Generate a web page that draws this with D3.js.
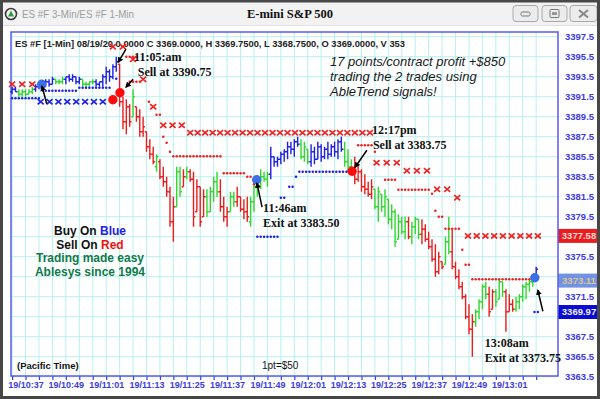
<!DOCTYPE html>
<meta charset="utf-8">
<html>
<head>
<script src="https://d3js.org/d3.v7.min.js"></script>
<style>
  body { margin: 0; background: #fff; }
  svg { display: block; }
  text { font-family: "Liberation Sans", Arial, sans-serif; }
</style>
</head>
<body>
<script>

// 1-min bars, index 0 = 19/10:33
const high = [
  3392.5,3392.5,3392.25,3392.25,3392.25,3392.25,3392.5,3392.75,3392.75,3392.75,
  3393.25,3393.25,3393.5,3393.25,3393.25,3393.5,3393.5,3393.75,3393.75,3393.5,
  3393.5,3393.25,3393,3393,3393.25,3393.25,3393,3393.75,3394.5,3394.25,
  3394.75,3395.5,3394.75,3391.5,3391.25,3390.75,3392.25,3390.5,3390.25,3389.5,
  3388,3387.25,3386.5,3385.75,3385.25,3384.5,3383.5,3382.5,3381.5,3384.5,
  3384.5,3384.25,3384.5,3384.25,3384,3383.25,3382.5,3382.25,3382.25,3382.5,
  3383.5,3384,3383.25,3381.5,3380.5,3382,3382,3382.5,3381.5,3381.25,
  3381.5,3381.5,3383,3383.5,3384.25,3384,3384,3386.5,3385.5,3385.5,
  3386,3386.25,3387,3387,3387.25,3387.5,3387.25,3387,3386.25,3386.75,
  3386.5,3387,3386.75,3386.5,3387,3386.75,3387,3387.25,3387.5,3387,
  3386.25,3385.25,3385.5,3384.75,3384.25,3383.75,3383,3383.25,3382.25,3382.5,
  3381.75,3382.25,3381.25,3380.75,3380.25,3379.75,3379.5,3379.5,3379.5,3379,
  3379.5,3379.25,3379.25,3378.75,3378,3377.25,3376.75,3376,3375,3377.5,
  3379.5,3378.25,3375,3374.25,3373,3371.75,3370.75,3369.75,3370.25,3371.25,
  3372.75,3373,3372.5,3372.25,3372.25,3373.25,3373,3372.25,3371.75,3371.25,
  3371.5,3371.75,3372.75,3373,3373.25,3373.5,3374.5];
const low = [
  3391.75,3392,3391.5,3391.5,3391.5,3391.75,3391.75,3392,3392.25,3392,
  3392.5,3392.5,3392.75,3392.75,3392.75,3392.75,3392.75,3393,3393,3392.75,
  3392.75,3392.5,3392.5,3392.5,3392.75,3392.5,3392.5,3392.5,3392.75,3393,
  3393.25,3394,3390.5,3388.25,3387.75,3388.5,3389.5,3389,3387.5,3387.5,
  3386,3385.25,3384.75,3384,3383.25,3382.5,3381.5,3378.5,3377,3380.5,
  3381.5,3382.5,3383.25,3383,3378.5,3380,3378.5,3379.5,3379.5,3380,
  3381,3381.5,3380,3379,3378.5,3380,3380.5,3380.5,3380,3379.25,
  3379,3378.5,3380,3381.5,3382.25,3383,3382.5,3383.25,3384.5,3384.5,
  3384.75,3385,3385.25,3385.75,3385.5,3386.5,3385.25,3385,3384.75,3384.5,
  3384.75,3385.25,3385,3385.25,3385.25,3385.5,3385.5,3385.25,3386,3384.5,
  3384,3383.75,3382.75,3383,3382,3381.75,3381.5,3381.25,3380.25,3379,
  3380,3379.5,3378.75,3378.25,3376.5,3377.25,3377.75,3377.25,3377.25,3376.75,
  3377.75,3377.25,3376.75,3377,3376.25,3375,3373.5,3373.75,3374.25,3374.75,
  3375.75,3374.25,3373.25,3372.25,3371.25,3369.25,3367.75,3365.5,3368.5,3369.25,
  3370.25,3371.25,3369.5,3370.25,3370.5,3371.25,3371.5,3368,3370,3370,
  3370,3370.25,3371,3371.25,3372,3372.5,3373.25];
const open = [
  3392,3392.25,3392,3391.75,3392,3391.75,3392,3392.25,3392.5,3392.5,
  3392.5,3393,3392.75,3393.25,3393,3393,3393.25,3393.5,3393.25,3393.5,
  3393,3393.25,3392.75,3392.75,3393,3393,3392.75,3393,3393.5,3394,
  3393.5,3394.5,3394.75,3391,3389,3390.5,3389.5,3390.5,3389.5,3388,
  3388,3386.5,3385.75,3384.5,3385,3383.5,3383,3382,3379,3380.5,
  3384,3382.5,3383.5,3384,3383.25,3380,3382.5,3379.5,3381.5,3380,
  3382,3383,3382,3380.5,3379.5,3380,3381.5,3381,3381.5,3380.25,
  3380,3379,3381,3382.5,3383,3383.5,3383.25,3383.75,3385.5,3385,
  3385.25,3385.75,3386,3386.5,3386.25,3387,3386.75,3385.5,3386.25,3385,
  3386,3385.25,3386.5,3385.5,3386.25,3385.75,3386.5,3386,3387,3386.25,
  3385,3384.5,3384,3383.25,3384,3382.5,3382.25,3381.75,3382.25,3380.5,
  3381.75,3380.5,3381.25,3379.25,3380,3377.25,3379,3378,3379,3377.5,
  3378.5,3379.25,3377.75,3378.25,3377.25,3376.5,3375.25,3374,3375,3374.75,
  3377,3376,3374.5,3373.5,3372.5,3371.5,3369.5,3368.25,3369,3370,
  3371,3372.5,3371.75,3370.25,3372,3371.25,3373,3372,3370,3370.75,
  3370.25,3371,3371.5,3372.5,3372.75,3373,3373.25];
const close = [
  3392.25,3392,3391.75,3392,3391.75,3392,3392.25,3392.5,3392.5,3392.25,
  3393,3392.75,3393.25,3393,3393,3393.25,3393.5,3393.25,3393.5,3393,
  3393.25,3392.75,3392.75,3393,3393,3392.75,3393,3393.5,3394,3393.5,
  3394.5,3395,3391,3389,3390.5,3389,3391.5,3389.5,3388,3388.5,
  3386.5,3385.75,3385,3385.5,3383.5,3383,3382,3379,3380.5,3384,
  3382,3383.5,3384,3383.25,3379.5,3382.5,3379,3381.5,3380,3382,
  3383,3382,3380.5,3379.5,3380,3381.5,3381,3381.5,3380.25,3380,
  3379.5,3381,3382.5,3383,3383.5,3383.25,3383.75,3385.5,3385,3385.25,
  3385.75,3386,3386.5,3386.25,3387,3386.75,3385.5,3386.5,3385,3386,
  3385.25,3386.5,3385.5,3386.25,3385.75,3386.5,3386,3387,3386.25,3385,
  3384.5,3384,3383.25,3384,3382.5,3382.25,3381.75,3382.5,3380.5,3382,
  3380.5,3381.5,3379.25,3380,3377,3379,3378,3379,3377.5,3378.5,
  3379.25,3377.75,3378.25,3377.25,3376.5,3375.25,3374,3375.5,3374.5,3377,
  3376,3374.5,3373.5,3372.5,3371.5,3369.5,3368.25,3369,3370,3371,
  3372.5,3371.75,3370,3372,3371,3373,3372,3370,3370.75,3370.25,
  3371,3371.5,3372.5,3372.75,3373,3373.25,3374.25];
// AbleTrend colour of each bar: B blue, G green, R red
const trend =
  'BBGGGGGBBB' + 'BBBGGGBBBB' + 'BGGGGBBBBB' + 'BBRRRRGRRR' + 'RRRGRRRRRG' +
  'GRGRRRRRGG' + 'GGRRRGGRRR' + 'RGGGGGGBBB' + 'BBBBBBGGGB' + 'BBBBBBBBBG' +
  'GGRRRRRRGG' + 'GGGGGGGGRG' + 'GGRRRRRRRG' + 'GRRRRRRRGG' + 'GGRRGGGRRR' +
  'GGGGGGB';

const timeLabels = ['19/10:37','19/10:49','19/11:01','19/11:13','19/11:25','19/11:37','19/11:49',
                    '19/12:01','19/12:13','19/12:25','19/12:37','19/12:49','19/13:01'];
const priceLabels = [3397.5,3395.5,3393.5,3391.5,3389.5,3387.5,3385.5,3383.5,3381.5,3379.5,
                     3377.5,3375.5,3373.5,3371.5,3369.5,3367.5,3365.5,3363.5];
const priceTags = [3377.58, 3373.11, 3369.97];

// stop markers: [from bar, to bar, price, number of X's]
const redXs = [[0,6,3392.75,3],[30,33,3396.5,2],[36,36,3395.25,1],[39,39,3393.25,1],[42,42,3390.5,1],
               [45,50.5,3388.65,3],[53,106.5,3387.9,25],[108.5,114.5,3384.9,3],[117.5,123.5,3384.1,3],
               [126.5,129.5,3382.25,2],[132.5,132.5,3381.4,1],[135.7,156.5,3377.58,9]];
const blueXs = [[8.5,27,3391.0,8]];
// dotted stops: [from bar, to bar, price], one dot per bar
const redDots = [[34,37,3395.5],[35,38,3393.0],[40.7,40.7,3391.0],[43,44,3389.7],[45,45,3387.5],
                 [46,46,3386.9],[47,47,3386.0],[48,62,3385.55],[63,69,3383.85],[70,71,3383.5],[72,72,3382.75],
                 [103,107,3386.65],[108,108,3386.0],[111,114,3383.2],[115,124,3382.2],[125,125,3381.8],
                 [126,126,3380.1],[127,128,3379.5],[129,133,3378.3],[134,134,3376.2],[135,136,3374.7],
                 [137,155,3373.25]];
const blueDots = [[0,8,3391.35],[10,19,3392.1],[20,29,3392.4],[31,31,3393.3],[73,79,3377.5],[80,81,3381.4],
                  [82.5,83.5,3382.5],[84.5,84.5,3383.5],[85.5,100,3384.0],[155.5,156.5,3369.97]];

const signals = [[8.8,3392.75,'buy'],[30,3391.2,'sell'],[32.1,3391.9,'sell'],
                 [72.8,3383.2,'buy'],[101.2,3384.05,'sell'],[155.6,3373.4,'buy']];
const notes = [[36.3,3395.45,'11:05:am'],[37.4,3393.95,'Sell at 3390.75'],
               [107.1,3388.15,'12:17pm'],[107.4,3386.65,'Sell at 3383.75'],
               [74.7,3380.35,'11:46am'],[74.7,3378.85,'Exit at 3383.50'],
               [140.7,3366.85,'13:08am'],[140.7,3365.35,'Exit at 3373.75']];
const pointers = [[33.9,3396.25,31.6,3394.95],[36.0,3393.25,33.9,3392.45],[10.3,3390.8,8.9,3392.55],
                  [74.4,3380.45,72.9,3382.85],[105.6,3386.15,102.1,3384.45],[158.0,3370.05,156.5,3372.15]];

const W = 600, H = 399,
      plot = { left: 11, right: 558, top: 32, bottom: 376 },
      bar_colour = { B: '#1f1fe6', G: '#2fd82f', R: '#ec1c1c' },
      tag_style = [['#e81e1e', '#ffd8d8'], ['#7193e2', '#d8c894'], ['#0b0bd6', '#eeeeee']],
      axis_blue = '#3c3ce0';

const x = d3.scaleLinear().domain([-0.33, 162.5]).range([plot.left, plot.right]),
      y = d3.scaleLinear().domain([3363.57, 3397.97]).range([plot.bottom, plot.top]);

const minute_of = s => { const [h, m] = s.split('/')[1].split(':'); return +h * 60 + +m - (10 * 60 + 33); };

const svg = d3.select('body').append('svg').attr('width', W).attr('height', H);

// window chrome
svg.append('rect').attr('width', W).attr('height', H).attr('fill', '#fff');
svg.append('rect').attr('width', W).attr('height', 25).attr('fill', '#f2f2f2');
svg.append('line').attr('x1', 0).attr('x2', W).attr('y1', 25.5).attr('y2', 25.5).attr('stroke', '#dedede');
svg.append('circle').attr('cx', 11).attr('cy', 14).attr('r', 5.5)
  .attr('fill', '#f4f4f4').attr('stroke', '#3a3a3a').attr('stroke-width', 1.6);
svg.append('path').attr('d', 'M8,16.5L11,10.5L14,16.5Z').attr('fill', '#2d9a3a');
svg.append('text').attr('x', 22).attr('y', 18).attr('fill', '#9d9d9d')
  .attr('font-size', 11.5).attr('textLength', 112).attr('lengthAdjust', 'spacingAndGlyphs')
  .text('ES #F 3-Min/ES #F 1-Min');
svg.append('text').attr('x', 290).attr('y', 18).attr('text-anchor', 'middle')
  .style('font-family', '"Liberation Serif", "Times New Roman", serif')
  .attr('font-weight', 'bold').attr('font-size', 12.5).attr('fill', '#111')
  .text('E-mini S&P 500');

const btn = svg.append('g');
[513, 542, 570].forEach((bx, k) => {
  btn.append('rect').attr('x', bx).attr('y', 5.5).attr('width', k == 2 ? 27 : 25).attr('height', 16).attr('rx', 3)
    .attr('fill', '#ececec').attr('stroke', '#a8a8a8');
});
btn.append('rect').attr('x', 521).attr('y', 12).attr('width', 9).attr('height', 4).attr('rx', 1.5)
  .attr('fill', 'none').attr('stroke', '#777');
btn.append('rect').attr('x', 550).attr('y', 9.5).attr('width', 9).attr('height', 8).attr('rx', 1)
  .attr('fill', 'none').attr('stroke', '#777');
btn.append('rect').attr('x', 552).attr('y', 12).attr('width', 5).attr('height', 3).attr('fill', '#999');
btn.append('path').attr('d', 'M579,10L588,17.5M579,17.5L588,10').attr('stroke', '#888').attr('stroke-width', 2);

// grid
const grid = svg.append('g').attr('stroke', '#b8f0f0').attr('stroke-width', 1);
grid.selectAll('line.v').data(d3.range(0, 157, 4)).enter().append('line')
  .attr('x1', d => x(d)).attr('x2', d => x(d)).attr('y1', plot.top).attr('y2', plot.bottom);
grid.selectAll('line.h').data(priceLabels).enter().append('line')
  .attr('x1', plot.left).attr('x2', plot.right).attr('y1', d => y(d)).attr('y2', d => y(d));

// axes
const label_at = new Map(timeLabels.map(s => [minute_of(s), s]));
svg.append('g').attr('transform', `translate(0,${plot.bottom})`)
  .call(d3.axisBottom(x).tickValues(d3.range(0, 157, 4)).tickSize(4).tickPadding(2)
    .tickFormat(m => label_at.get(m) || ''))
  .call(a => a.select('.domain').remove())
  .call(a => a.selectAll('line').attr('stroke', axis_blue).attr('stroke-width', 1.2))
  .call(a => a.selectAll('text').attr('fill', axis_blue)
    .style('font', 'bold 9px "Liberation Sans", Arial, sans-serif'));

// scale labels hidden under a price tag are not drawn
const visible_prices = priceLabels.filter(p => priceTags.every(t => Math.abs(t - p) > 0.9));
svg.append('g').attr('transform', `translate(${plot.right},0)`)
  .call(d3.axisRight(y).tickValues(visible_prices).tickSize(0).tickPadding(7).tickFormat(d3.format('.1f')))
  .call(a => a.select('.domain').remove())
  .call(a => a.selectAll('text').attr('fill', axis_blue)
    .style('font', 'bold 9.5px "Liberation Sans", Arial, sans-serif'));

// price tags on the right scale
const tags = svg.append('g').selectAll('g').data(priceTags).enter().append('g')
  .attr('transform', d => `translate(${plot.right},${y(d)})`);
tags.append('rect').attr('x', 0).attr('y', -7).attr('width', 42).attr('height', 14)
  .attr('fill', (d, i) => tag_style[i][0]);
tags.append('text').attr('x', 21).attr('dy', '0.35em').attr('text-anchor', 'middle')
  .attr('fill', (d, i) => tag_style[i][1])
  .style('font', 'bold 9.5px "Liberation Sans", Arial, sans-serif')
  .text(d => d.toFixed(2));

svg.append('rect').attr('x', plot.left).attr('y', plot.top)
  .attr('width', plot.right - plot.left).attr('height', plot.bottom - plot.top)
  .attr('fill', 'none').attr('stroke', '#5a5aee').attr('stroke-width', 1.5);

svg.append('text').attr('x', 15).attr('y', 46.5).attr('fill', '#222')
  .attr('font-weight', 'bold').attr('font-size', 9.5)
  .attr('textLength', 390).attr('lengthAdjust', 'spacingAndGlyphs')
  .text('ES #F [1-Min] 08/19/20 0.0000 C 3369.0000, H 3369.7500, L 3368.7500, O 3369.0000, V 353');

const story = ['17 points/contract profit +$850', 'trading the 2 trades using', 'AbleTrend signals!'];
svg.append('g').selectAll('text').data(story).enter().append('text')
  .attr('x', 330).attr('y', (d, i) => 65.5 + i * 15)
  .attr('font-style', 'italic').attr('font-size', 13).attr('fill', '#1a1a1a')
  .text(d => d);

// OHLC bars
const bars = d3.range(high.length);
svg.append('g').attr('stroke-width', 1.4).attr('fill', 'none')
  .selectAll('path').data(bars).enter().append('path')
  .attr('stroke', i => bar_colour[trend[i]])
  .attr('d', i => {
    const xi = x(i);
    return `M${xi},${y(high[i])}V${y(low[i])}M${xi - 1.8},${y(open[i])}H${xi}M${xi},${y(close[i])}H${xi + 1.8}`;
  });

// AbleTrend stops
const dot_points = runs => runs.flatMap(([a, b, v]) => d3.range(a, b + 0.01, 1).map(i => [i, v]));
const x_points = runs => runs.flatMap(([a, b, v, n]) =>
  d3.range(n).map(k => [n > 1 ? a + k * (b - a) / (n - 1) : a, v]));

const draw_dots = (pts, colour) => svg.append('g').selectAll('circle').data(pts).enter().append('circle')
  .attr('cx', d => x(d[0])).attr('cy', d => y(d[1])).attr('r', 1.25).attr('fill', colour);
const draw_xs = (pts, colour) => svg.append('g').attr('stroke', colour).attr('stroke-width', 1.7)
  .selectAll('path').data(pts).enter().append('path')
  .attr('d', d => { const cx = x(d[0]), cy = y(d[1]); return `M${cx - 3},${cy - 2.6}L${cx + 3},${cy + 2.6}M${cx - 3},${cy + 2.6}L${cx + 3},${cy - 2.6}`; });

draw_dots(dot_points(redDots), '#ee2020');
draw_dots(dot_points(blueDots), '#1f1fe6');
draw_xs(x_points(redXs), '#ee2424');
draw_xs(x_points(blueXs), '#1f1fe6');

// entry / exit signals
svg.append('g').selectAll('circle').data(signals).enter().append('circle')
  .attr('cx', d => x(d[0])).attr('cy', d => y(d[1])).attr('r', 4.7)
  .attr('fill', d => d[2] == 'buy' ? '#3b6fe8' : '#ff0a0a');

// pointers
svg.append('defs').append('marker')
  .attr('id', 'head').attr('viewBox', '0 -5 10 10').attr('refX', 8).attr('refY', 0)
  .attr('markerWidth', 4).attr('markerHeight', 4).attr('orient', 'auto')
  .append('path').attr('d', 'M0,-5L10,0L0,5Z').attr('fill', '#000');
svg.append('g').selectAll('line').data(pointers).enter().append('line')
  .attr('x1', d => x(d[0])).attr('y1', d => y(d[1]))
  .attr('x2', d => x(d[2])).attr('y2', d => y(d[3]))
  .attr('stroke', '#000').attr('stroke-width', 1.5).attr('marker-end', 'url(#head)');

svg.append('g').selectAll('text').data(notes).enter().append('text')
  .attr('x', d => x(d[0])).attr('y', d => y(d[1])).attr('dy', '0.35em')
  .style('font-family', '"Liberation Serif", "Times New Roman", serif')
  .attr('font-weight', 'bold').attr('font-size', 12).attr('fill', '#111')
  .text(d => d[2]);

// legend
const legend = [[['Buy On ', '#111'], ['Blue', '#2020e8']],
                [['Sell On ', '#111'], ['Red', '#ee1111']],
                [['Trading made easy', '#0e7a4a']],
                [['Ablesys since 1994', '#0e7a4a']]];
svg.append('g').selectAll('text').data(legend).enter().append('text')
  .attr('x', 90).attr('y', (d, i) => 235 + i * 13.6).attr('text-anchor', 'middle')
  .attr('font-weight', 'bold').attr('font-size', 12)
  .selectAll('tspan').data(d => d).enter().append('tspan')
  .attr('fill', d => d[1]).text(d => d[0]);

svg.append('text').attr('x', 17).attr('y', 368.5).attr('font-weight', 'bold').attr('font-size', 9.5)
  .attr('fill', '#111').text('(Pacific Time)');
svg.append('text').attr('x', 262).attr('y', 368.5).attr('font-size', 10).attr('fill', '#111').text('1pt=$50');

// outer window frame
svg.append('rect').attr('x', 1.5).attr('y', 1).attr('width', W - 3).attr('height', H - 2.5)
  .attr('fill', 'none').attr('stroke', '#474747').attr('stroke-width', 3);

</script>
</body>
</html>
